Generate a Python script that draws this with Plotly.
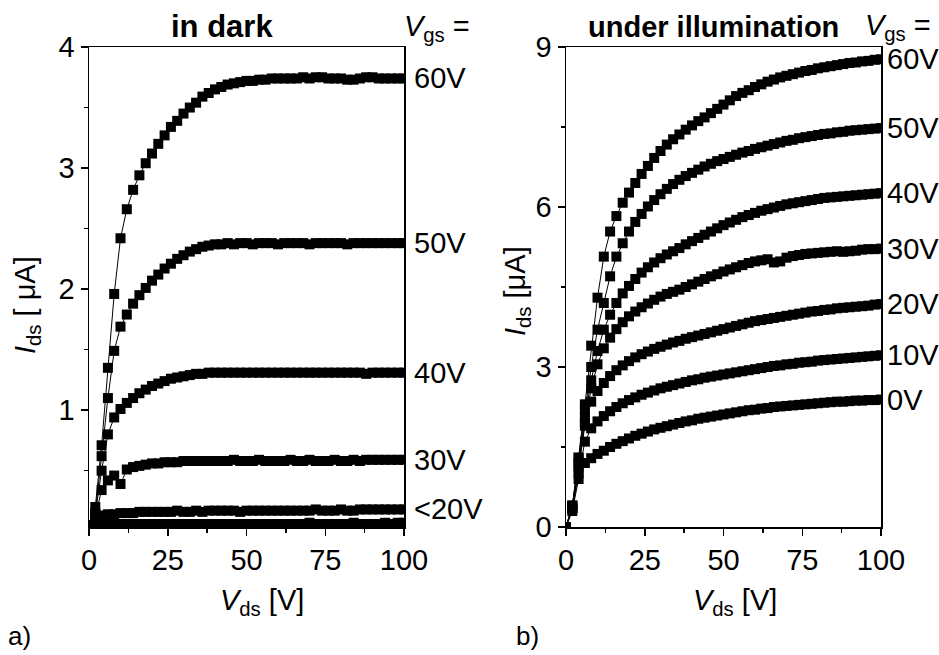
import plotly.graph_objects as go

# Drain-source voltage sweep (V)
vds = [0, 2, 4, 6, 8, 10, 12, 14, 16, 18, 20, 22, 24, 26, 28, 30, 32, 34, 36, 38, 40,
       42, 44, 46, 48, 50, 52, 54, 56, 58, 60, 62, 64, 66, 68, 70, 72, 74, 76, 78, 80,
       82, 84, 86, 88, 90, 92, 94, 96, 98, 100]

# ---- a) in dark, Ids (uA) ----
dark_60 = [0.05, 0.20, 0.71, 1.35, 1.96, 2.42, 2.66, 2.82, 2.94, 3.04, 3.12, 3.20, 3.27, 3.34, 3.39, 3.45,
           3.50, 3.54, 3.59, 3.62, 3.65, 3.67, 3.69, 3.70, 3.71, 3.72, 3.72, 3.73, 3.73, 3.74, 3.74, 3.74,
           3.74, 3.74, 3.75, 3.74, 3.75, 3.75, 3.74, 3.74, 3.74, 3.73, 3.73, 3.74, 3.75, 3.75, 3.74, 3.74,
           3.74, 3.74, 3.74]
dark_50 = [0.05, 0.15, 0.62, 1.10, 1.49, 1.69, 1.79, 1.88, 1.95, 2.01, 2.07, 2.12, 2.17, 2.21, 2.25, 2.28,
           2.31, 2.33, 2.35, 2.36, 2.37, 2.37, 2.38, 2.37, 2.38, 2.38, 2.37, 2.38, 2.38, 2.38, 2.37, 2.38,
           2.38, 2.38, 2.38, 2.37, 2.38, 2.38, 2.38, 2.38, 2.38, 2.37, 2.38, 2.38, 2.38, 2.38, 2.38, 2.38,
           2.38, 2.38, 2.38]
dark_40 = [0.05, 0.14, 0.50, 0.80, 0.94, 1.01, 1.06, 1.10, 1.14, 1.17, 1.20, 1.22, 1.24, 1.26, 1.27, 1.28,
           1.29, 1.30, 1.30, 1.31, 1.31, 1.31, 1.31, 1.31, 1.31, 1.31, 1.31, 1.31, 1.31, 1.31, 1.31, 1.31,
           1.31, 1.31, 1.31, 1.31, 1.31, 1.31, 1.31, 1.31, 1.31, 1.31, 1.31, 1.31, 1.30, 1.31, 1.31, 1.31,
           1.31, 1.31, 1.31]
dark_30 = [0.05, 0.12, 0.34, 0.42, 0.46, 0.39, 0.51, 0.53, 0.54, 0.55, 0.56, 0.56, 0.57, 0.57, 0.57, 0.58,
           0.58, 0.58, 0.58, 0.58, 0.58, 0.58, 0.58, 0.59, 0.58, 0.58, 0.58, 0.59, 0.58, 0.58, 0.58, 0.58,
           0.59, 0.58, 0.58, 0.59, 0.58, 0.58, 0.58, 0.59, 0.58, 0.58, 0.59, 0.58, 0.59, 0.59, 0.59, 0.59,
           0.59, 0.59, 0.59]
dark_20 = [0.05, 0.12, 0.13, 0.14, 0.14, 0.15, 0.15, 0.15, 0.16, 0.16, 0.16, 0.16, 0.16, 0.16, 0.17, 0.16,
           0.16, 0.17, 0.16, 0.17, 0.17, 0.17, 0.17, 0.17, 0.16, 0.17, 0.17, 0.17, 0.17, 0.17, 0.17, 0.17,
           0.17, 0.17, 0.17, 0.17, 0.18, 0.17, 0.17, 0.17, 0.18, 0.17, 0.17, 0.18, 0.18, 0.18, 0.18, 0.18,
           0.18, 0.18, 0.18]
dark_low = [0.04, 0.06, 0.06, 0.06, 0.06, 0.06, 0.06, 0.06, 0.06, 0.06, 0.06, 0.06, 0.06, 0.06, 0.06, 0.06,
            0.06, 0.06, 0.06, 0.06, 0.06, 0.06, 0.06, 0.06, 0.06, 0.06, 0.06, 0.06, 0.06, 0.06, 0.06, 0.06,
            0.06, 0.06, 0.06, 0.07, 0.06, 0.06, 0.06, 0.06, 0.06, 0.06, 0.07, 0.06, 0.06, 0.06, 0.06, 0.07,
            0.06, 0.07, 0.07]
dark_series = [dark_60, dark_50, dark_40, dark_30, dark_20, dark_low]
dark_labels = ["60V", "50V", "40V", "30V", "&lt;20V"]

# ---- b) under illumination, Ids (uA) ----
ill_60 = [0.0, 0.35, 1.30, 2.30, 3.40, 4.30, 5.07, 5.54, 5.83, 6.08, 6.27, 6.45, 6.62, 6.77, 6.92, 7.05,
          7.17, 7.27, 7.36, 7.45, 7.53, 7.61, 7.68, 7.76, 7.84, 7.92, 8.00, 8.08, 8.14, 8.19, 8.25, 8.30,
          8.35, 8.39, 8.43, 8.46, 8.49, 8.52, 8.55, 8.57, 8.60, 8.62, 8.64, 8.66, 8.68, 8.70, 8.71, 8.73,
          8.74, 8.76, 8.77]
ill_50 = [0.0, 0.40, 1.30, 2.20, 3.00, 3.70, 4.20, 4.70, 5.07, 5.32, 5.54, 5.72, 5.87, 6.01, 6.13, 6.24,
          6.34, 6.43, 6.51, 6.58, 6.64, 6.70, 6.76, 6.81, 6.86, 6.90, 6.94, 6.98, 7.02, 7.05, 7.09, 7.12,
          7.15, 7.18, 7.21, 7.24, 7.26, 7.29, 7.31, 7.33, 7.35, 7.37, 7.38, 7.40, 7.41, 7.43, 7.44, 7.45,
          7.46, 7.47, 7.48]
ill_40 = [0.0, 0.40, 1.20, 2.05, 2.75, 3.30, 3.70, 3.98, 4.20, 4.38, 4.52, 4.65, 4.77, 4.87, 4.96, 5.04,
          5.11, 5.17, 5.23, 5.30, 5.36, 5.42, 5.48, 5.54, 5.60, 5.66, 5.71, 5.76, 5.81, 5.85, 5.89, 5.93,
          5.96, 5.99, 6.02, 6.05, 6.07, 6.09, 6.11, 6.13, 6.15, 6.17, 6.18, 6.19, 6.20, 6.21, 6.22, 6.23,
          6.24, 6.25, 6.26]
ill_30 = [0.0, 0.40, 1.15, 1.95, 2.60, 3.05, 3.35, 3.55, 3.71, 3.84, 3.95, 4.04, 4.12, 4.19, 4.26, 4.32,
          4.37, 4.41, 4.45, 4.50, 4.55, 4.60, 4.65, 4.70, 4.74, 4.79, 4.83, 4.87, 4.91, 4.95, 4.98, 5.00,
          5.02, 4.96, 4.98, 5.05, 5.08, 5.10, 5.12, 5.13, 5.14, 5.15, 5.16, 5.17, 5.16, 5.17, 5.18, 5.20,
          5.21, 5.21, 5.22]
ill_20 = [0.0, 0.35, 1.10, 1.90, 2.35, 2.55, 2.70, 2.83, 2.94, 3.03, 3.11, 3.18, 3.24, 3.29, 3.34, 3.38,
          3.42, 3.46, 3.49, 3.53, 3.56, 3.59, 3.62, 3.65, 3.68, 3.71, 3.74, 3.77, 3.80, 3.83, 3.86, 3.88,
          3.90, 3.92, 3.94, 3.96, 3.98, 4.00, 4.02, 4.04, 4.05, 4.07, 4.08, 4.10, 4.11, 4.12, 4.13, 4.14,
          4.15, 4.17, 4.18]
ill_10 = [0.0, 0.35, 1.00, 1.60, 1.85, 1.98, 2.08, 2.17, 2.25, 2.32, 2.38, 2.43, 2.48, 2.52, 2.56, 2.60,
          2.63, 2.66, 2.69, 2.72, 2.75, 2.77, 2.80, 2.82, 2.84, 2.86, 2.88, 2.90, 2.92, 2.94, 2.96, 2.98,
          3.00, 3.02, 3.03, 3.05, 3.06, 3.08, 3.09, 3.10, 3.12, 3.13, 3.14, 3.15, 3.16, 3.17, 3.18, 3.19,
          3.20, 3.21, 3.22]
ill_0 = [0.0, 0.30, 0.90, 1.20, 1.29, 1.37, 1.43, 1.50, 1.56, 1.61, 1.66, 1.71, 1.75, 1.79, 1.83, 1.86,
         1.89, 1.92, 1.95, 1.98, 2.00, 2.03, 2.05, 2.07, 2.09, 2.11, 2.13, 2.15, 2.17, 2.19, 2.20, 2.22,
         2.23, 2.25, 2.26, 2.27, 2.28, 2.29, 2.30, 2.31, 2.32, 2.33, 2.34, 2.35, 2.35, 2.36, 2.37, 2.37,
         2.38, 2.38, 2.39]
ill_series = [ill_60, ill_50, ill_40, ill_30, ill_20, ill_10, ill_0]
ill_labels = ["60V", "50V", "40V", "30V", "20V", "10V", "0V"]

FONT = "Arial, Liberation Sans, sans-serif"
W, H = 939, 655

fig = go.Figure()
for ys in dark_series:
    fig.add_trace(go.Scatter(x=vds, y=ys, mode="lines+markers", xaxis="x", yaxis="y",
                             line=dict(color="black", width=1),
                             marker=dict(symbol="square", size=10, color="black"),
                             showlegend=False, hoverinfo="skip"))
for ys in ill_series:
    fig.add_trace(go.Scatter(x=vds, y=ys, mode="lines+markers", xaxis="x2", yaxis="y2",
                             line=dict(color="black", width=1),
                             marker=dict(symbol="square", size=10, color="black"),
                             showlegend=False, hoverinfo="skip"))


def px_x(p):
    return p / W


def px_y(p):
    return (H - p) / H


axis_common = dict(showgrid=False, zeroline=False, showline=True, linecolor="black", linewidth=1.5,
                   mirror=True, ticks="outside", ticklen=7, tickwidth=1.5, tickcolor="black",
                   automargin=False,
                   tickfont=dict(family=FONT, size=29, color="black"))

xa = dict(axis_common, range=[0, 100], tick0=0, dtick=25,
          minor=dict(ticks="outside", ticklen=4, tickwidth=1.5, tickcolor="black", dtick=12.5, showgrid=False))

fig.update_layout(
    width=W, height=H, margin=dict(l=0, r=0, t=0, b=0, autoexpand=False),
    paper_bgcolor="white", plot_bgcolor="white",
    font=dict(family=FONT, color="black"),
    xaxis=dict(xa, domain=[px_x(89), px_x(404)], anchor="y"),
    xaxis2=dict(xa, domain=[px_x(566), px_x(881)], anchor="y2"),
    yaxis=dict(axis_common, domain=[px_y(527), px_y(47)], anchor="x", range=[0.035, 4.0], tick0=0, dtick=1,
               minor=dict(ticks="outside", ticklen=4, tickwidth=1.5, tickcolor="black", dtick=0.5, showgrid=False)),
    yaxis2=dict(axis_common, domain=[px_y(527), px_y(47)], anchor="x2", range=[0, 9], tick0=0, dtick=3,
                minor=dict(ticks="outside", ticklen=4, tickwidth=1.5, tickcolor="black", dtick=1.5, showgrid=False)),
)

ann = []
# curve labels
for lab, ys in zip(dark_labels, dark_series):
    ann.append(dict(text=lab, xref="paper", yref="y", x=px_x(412), y=ys[-1], xanchor="left", yanchor="middle",
                    showarrow=False, font=dict(family=FONT, size=29, color="black")))
for lab, ys in zip(ill_labels, ill_series):
    ann.append(dict(text=lab, xref="paper", yref="y2", x=px_x(885), y=ys[-1], xanchor="left", yanchor="middle",
                    showarrow=False, font=dict(family=FONT, size=29, color="black")))

txt = dict(family=FONT, size=29, color="black")
ann += [
    dict(text="<b>in dark</b>", x=px_x(222), y=px_y(27), xref="paper", yref="paper", showarrow=False,
         xanchor="center", yanchor="middle", font=dict(family=FONT, size=31, color="black")),
    dict(text="<b>under illumination</b>", x=px_x(713), y=px_y(27), xref="paper", yref="paper", showarrow=False,
         xanchor="center", yanchor="middle", font=dict(family=FONT, size=29, color="black")),
    dict(text="<i>V</i><sub>gs</sub> =", x=px_x(402), y=px_y(28), xref="paper", yref="paper", showarrow=False,
         xanchor="left", yanchor="middle", font=txt),
    dict(text="<i>V</i><sub>gs</sub> =", x=px_x(863), y=px_y(27), xref="paper", yref="paper", showarrow=False,
         xanchor="left", yanchor="middle", font=txt),
    dict(text="<i>I</i><sub>ds</sub> [ μA]", x=px_x(27), y=px_y(305), xref="paper", yref="paper", showarrow=False,
         textangle=-90, xanchor="center", yanchor="middle", font=txt),
    dict(text="<i>I</i><sub>ds</sub> [μA]", x=px_x(517), y=px_y(291), xref="paper", yref="paper", showarrow=False,
         textangle=-90, xanchor="center", yanchor="middle", font=txt),
    dict(text="<i>V</i><sub>ds</sub> [V]", x=px_x(262), y=px_y(602), xref="paper", yref="paper", showarrow=False,
         xanchor="center", yanchor="middle", font=txt),
    dict(text="<i>V</i><sub>ds</sub> [V]", x=px_x(735), y=px_y(602), xref="paper", yref="paper", showarrow=False,
         xanchor="center", yanchor="middle", font=txt),
    dict(text="a)", x=px_x(6), y=px_y(636), xref="paper", yref="paper", showarrow=False,
         xanchor="left", yanchor="middle", font=dict(family=FONT, size=26, color="black")),
    dict(text="b)", x=px_x(514), y=px_y(636), xref="paper", yref="paper", showarrow=False,
         xanchor="left", yanchor="middle", font=dict(family=FONT, size=26, color="black")),
]
fig.update_layout(annotations=ann)

fig.write_html("out.html",
               config={"displayModeBar": False, "staticPlot": True},
               post_script="document.body.style.margin='0';document.body.style.padding='0';"
                           "document.body.style.overflow='hidden';")
